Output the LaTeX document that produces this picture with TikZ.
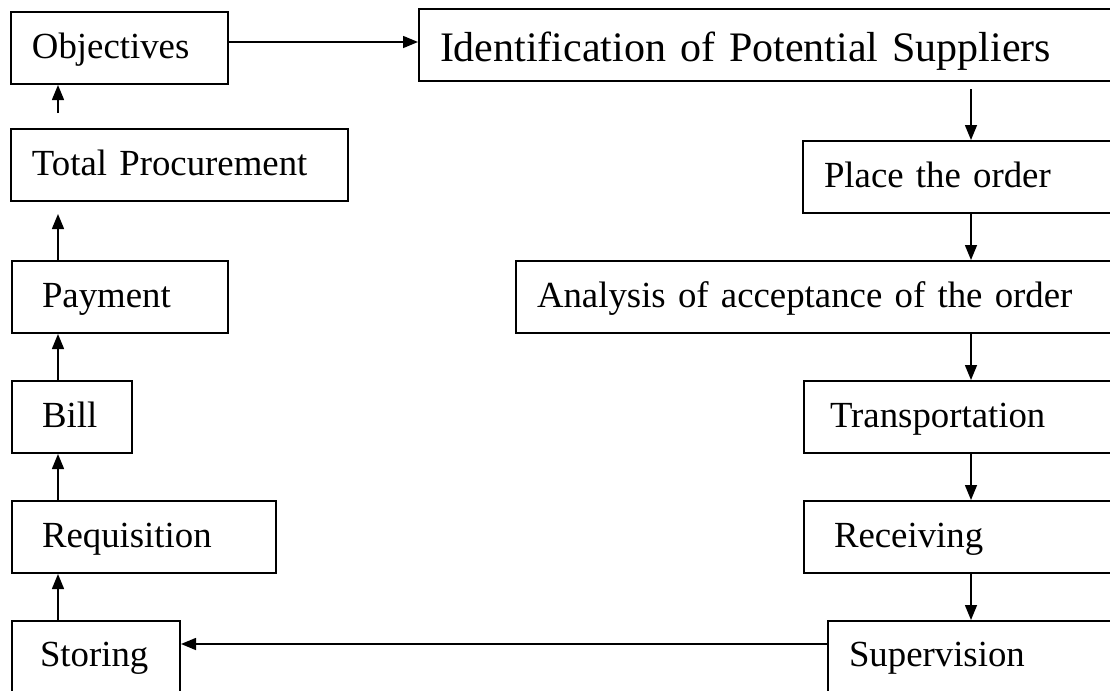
\documentclass[tikz,border=0pt]{standalone}
\usepackage{fontspec}
\setmainfont{Liberation Serif}
\usetikzlibrary{arrows.meta}

\tikzset{
  stage/.style={draw, line width=1pt, anchor=north west, inner xsep=10.5pt, inner ysep=0pt,
    minimum height=36pt, text height=12pt, text depth=2pt, align=left,
    font=\fontsize{18.4}{22}\selectfont},
  flow/.style={-{Triangle[length=7.5pt,width=6pt]}, line width=0.75pt},
}

\begin{document}
\begin{tikzpicture}[x=0.5pt, y=-0.5pt]
\clip (0,0) rectangle (1110,691); % page frame
\coordinate (lcol) at (58,0); % left column of arrows
\coordinate (rcol) at (971,0); % right column of arrows

% left column
\node[stage, text width=87.5pt] (obj) at (10,11) {Objectives};
\node[stage, text width=147.5pt] (tp) at (10,128) {Total Procurement};
\node[stage, inner xsep=15pt, text width=78pt] (pay) at (11,260) {Payment};
\node[stage, inner xsep=15pt, text width=30pt] (bill) at (11,380) {Bill};
\node[stage, inner xsep=15pt, text width=102pt] (req) at (11,500) {Requisition};
\node[stage, inner xsep=14pt, text width=56pt, minimum height=45pt, text height=12pt, text depth=12pt] (stor) at (11,620) {Storing};

% right column
\node[stage, text width=330pt, text height=16pt, text depth=0pt, font=\fontsize{21}{26}\selectfont] (ident) at (418,8) {Identification of Potential Suppliers};
\node[stage, text width=138pt] (place) at (802,140) {Place the order};
\node[stage, text width=281.5pt] (anal) at (515,260) {Analysis of acceptance of the order};
\node[stage, inner xsep=13pt, text width=132.5pt] (transp) at (803,380) {Transportation};
\node[stage, inner xsep=15pt, text width=128.5pt] (recv) at (803,500) {Receiving};
\node[stage, text width=138pt, minimum height=45pt, text height=12pt, text depth=12pt] (sup) at (827,620) {Supervision};

% arrows
\draw[flow] ([yshift=3pt]obj.east) -- ([yshift=3pt]obj.east -| ident.west); % top link
\draw[flow, shorten <=3.5pt] (ident.south -| rcol) -- (place.north -| rcol);
\draw[flow] (place.south -| rcol) -- (anal.north -| rcol);
\draw[flow] (anal.south -| rcol) -- (transp.north -| rcol);
\draw[flow] (transp.south -| rcol) -- (recv.north -| rcol);
\draw[flow] (recv.south -| rcol) -- (sup.north -| rcol);
\draw[flow] ([yshift=-12pt]sup.north west) -- ([yshift=-12pt]sup.north west -| stor.east); % bottom link
\draw[flow] (stor.north -| lcol) -- (req.south -| lcol);
\draw[flow] (req.north -| lcol) -- (bill.south -| lcol);
\draw[flow] (bill.north -| lcol) -- (pay.south -| lcol);
\draw[flow, shorten >=6pt] (pay.north -| lcol) -- (tp.south -| lcol);
\draw[flow, shorten <=7.5pt] (tp.north -| lcol) -- (obj.south -| lcol);

\end{tikzpicture}
\end{document}
